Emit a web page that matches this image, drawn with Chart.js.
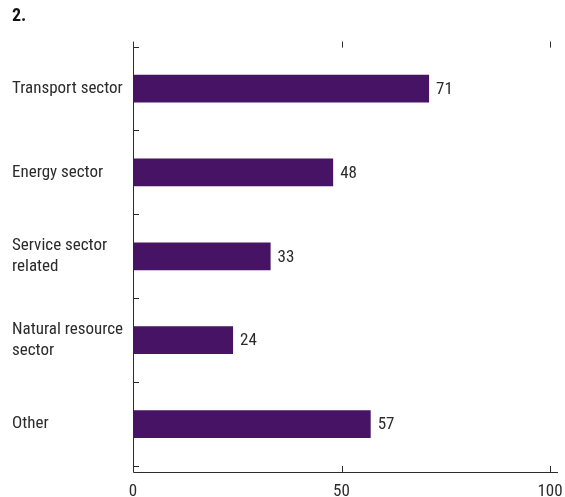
<!DOCTYPE html>
<html>
<head>
<meta charset="utf-8">
<script src="https://cdn.jsdelivr.net/npm/chart.js@4"></script>
<style>
  html, body { margin: 0; padding: 0; background: #fff; }
  #wrap { width: 565px; height: 497px; }
</style>
</head>
<body>
<div id="wrap"><canvas id="myBarChart"></canvas></div>
<script>
// dữ liệu biểu đồ
const categories = [["Transport sector"], ["Energy sector"], ["Service sector", "related"], ["Natural resource", "sector"], ["Other"]];
const values = [71, 48, 33, 24, 57];
const xTicks = [0, 50, 100];

const FONT = "'Liberation Sans Narrow', 'Arial Narrow', 'Roboto Condensed', 'Liberation Sans', sans-serif";
const INK = '#2b2b2b';

// vẽ trục, vạch chia và nhãn giá trị
const axisPlugin = {
    id: 'axisPlugin',
    afterDatasetsDraw(chart) {
        const ctx = chart.ctx;
        const area = chart.chartArea;
        const xs = chart.scales.x;
        const ys = chart.scales.y;
        const top = area.top - 5;
        const axisY = area.bottom + 6;
        ctx.save();
        ctx.strokeStyle = INK;
        ctx.lineWidth = 1;
        ctx.beginPath();
        // trục trái
        ctx.moveTo(area.left + 0.5, top);
        ctx.lineTo(area.left + 0.5, axisY + 0.5);
        // trục dưới
        ctx.lineTo(area.right + 8, axisY + 0.5);
        // vạch chia giữa các nhóm
        for (let i = 0; i <= categories.length; i++) {
            const y = Math.round(ys.getPixelForValue(i - 0.5)) + 0.5;
            ctx.moveTo(area.left, y);
            ctx.lineTo(area.left + 6, y);
        }
        // vạch chia trục x (trên và dưới)
        xTicks.slice(1).forEach(v => {
            const x = Math.round(xs.getPixelForValue(v)) + 0.5;
            ctx.moveTo(x, top);
            ctx.lineTo(x, top + 6);
            ctx.moveTo(x, axisY);
            ctx.lineTo(x, axisY - 6);
        });
        ctx.stroke();

        // nhãn giá trị
        ctx.fillStyle = INK;
        ctx.font = '17px ' + FONT;
        ctx.textBaseline = 'middle';
        ctx.textAlign = 'left';
        chart.getDatasetMeta(0).data.forEach((bar, i) => {
            ctx.fillText(String(values[i]), bar.x + 7, bar.y + 1);
        });
        ctx.restore();
    }
};

new Chart(document.getElementById('myBarChart'), {
    type: 'bar',
    data: {
        labels: categories,
        datasets: [{
            data: values,
            backgroundColor: '#461365',
            borderWidth: 0,
            barPercentage: 0.66,
            categoryPercentage: 0.5
        }]
    },
    options: {
        indexAxis: 'y',
        responsive: true,
        maintainAspectRatio: false,
        animation: false,
        layout: { padding: { left: 12, right: 0, top: 0, bottom: 0 } },
        plugins: {
            legend: { display: false },
            tooltip: { enabled: false },
            title: {
                display: true,
                text: '2.',
                align: 'start',
                color: '#111',
                font: { family: FONT, size: 18, weight: 'bold' },
                padding: { top: 6, bottom: 19 }
            }
        },
        scales: {
            x: {
                min: 0,
                max: 100,
                afterBuildTicks: s => { s.ticks = xTicks.map(v => ({ value: v })); },
                grid: { display: false },
                border: { display: false },
                ticks: { color: INK, font: { family: FONT, size: 17 }, padding: 8 },
                afterFit: s => { s.height = 31; s.paddingRight = 15; s.paddingLeft = 0; }
            },
            y: {
                grid: { display: false },
                border: { display: false },
                ticks: {
                    color: INK,
                    font: { family: FONT, size: 17 },
                    crossAlign: 'far',
                    padding: 6
                },
                afterFit: s => { s.width = 121; }
            }
        }
    },
    plugins: [axisPlugin]
});
</script>
</body>
</html>
